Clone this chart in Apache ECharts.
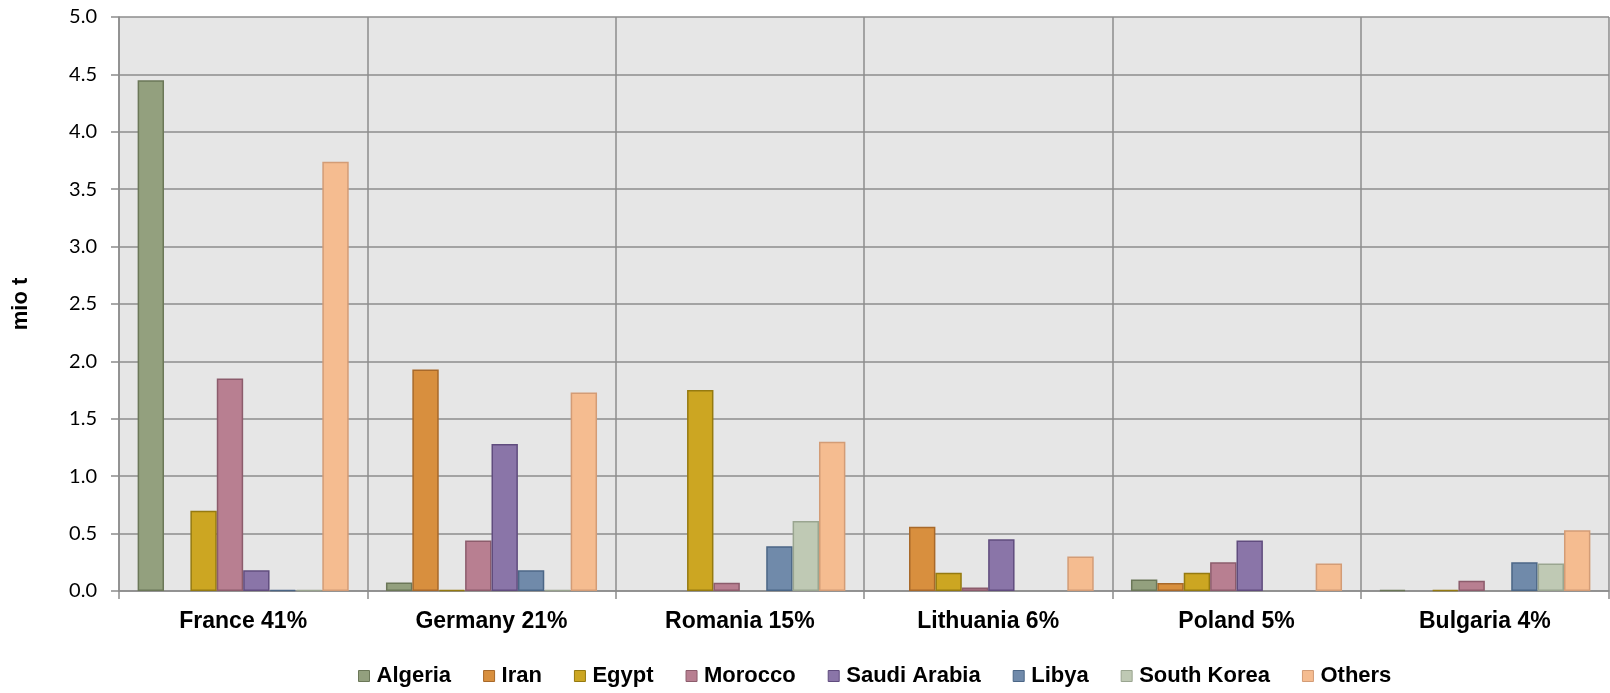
<!DOCTYPE html>
<html><head><meta charset="utf-8">
<script src="https://cdn.jsdelivr.net/npm/echarts@6/dist/echarts.min.js"></script>
<style>html,body{margin:0;padding:0;background:#fff}#c{width:1610px;height:693px}</style>
</head><body><div id="c"></div>
<script>
const categories = ['France 41%', 'Germany 21%', 'Romania 15%', 'Lithuania 6%', 'Poland 5%', 'Bulgaria 4%'];
const seriesNames = ['Algeria', 'Iran', 'Egypt', 'Morocco', 'Saudi Arabia', 'Libya', 'South Korea', 'Others'];
const algeria    = [4.45, 0.075, null, null, 0.10, 0.01];
const iran       = [null, 1.93, null, 0.56, 0.07, null];
const egypt      = [0.70, 0.01, 1.75, 0.16, 0.16, 0.01];
const morocco    = [1.85, 0.44, 0.072, 0.03, 0.25, 0.09];
const saudi      = [0.18, 1.28, null, 0.45, 0.44, null];
const libya      = [0.01, 0.18, 0.39, null, null, 0.25];
const southKorea = [0.01, 0.01, 0.61, null, null, 0.24];
const others     = [3.74, 1.73, 1.30, 0.30, 0.24, 0.53];
const yTicks = ['0.0','0.5','1.0','1.5','2.0','2.5','3.0','3.5','4.0','4.5','5.0'];

const dataSets = [algeria, iran, egypt, morocco, saudi, libya, southKorea, others];
const fills   = ['#93a07e', '#d88f3e', '#cca622', '#b87f91', '#8a75a8', '#708aaa', '#bfc9b4', '#f5bc90'];
const borders = ['#6b7758', '#a8692a', '#957a10', '#8c5c6c', '#604c7e', '#4b6686', '#9aa590', '#d39c76'];

const chart = echarts.init(document.getElementById('c'));
chart.setOption({
  animation: false,
  grid: { left: 119, right: 1, top: 17, bottom: 102, show: true, backgroundColor: '#e6e6e6', borderWidth: 0, containLabel: false, outerBoundsMode: 'none' },
  legend: {
    bottom: 1, left: 353,
    itemWidth: 11, itemHeight: 11, itemGap: 32,
    textStyle: { fontFamily: 'Liberation Sans, Arial', fontWeight: 'bold', fontSize: 22, color: '#000', padding: [0, 0, 0, 2] },
    data: seriesNames.map((n, i) => ({ name: n, icon: 'rect', itemStyle: { color: fills[i], borderColor: borders[i], borderWidth: 1 } }))
  },
  xAxis: {
    type: 'category', data: categories,
    axisLine: { lineStyle: { color: '#8c8c8c', width: 1.5 } },
    axisTick: { show: true, length: 8, lineStyle: { color: '#8c8c8c', width: 1.5 } },
    splitLine: { show: true, lineStyle: { color: '#8c8c8c', width: 1.5 } },
    axisLabel: { margin: 19, fontFamily: 'Liberation Sans, Arial', fontWeight: 'bold', fontSize: 23, color: '#000' }
  },
  yAxis: {
    type: 'value', min: 0, max: 5, interval: 0.5,
    name: 'mio t', nameLocation: 'middle', nameGap: 87, nameRotate: 90,
    nameTextStyle: { fontFamily: 'Liberation Sans, Arial', fontWeight: 'bold', fontSize: 22, color: '#000' },
    axisLine: { show: true, lineStyle: { color: '#8c8c8c', width: 1.5 } },
    axisTick: { show: true, length: 8, lineStyle: { color: '#8c8c8c', width: 1.5 } },
    splitLine: { show: true, lineStyle: { color: '#8c8c8c', width: 1.5 } },
    axisLabel: { margin: 22, fontFamily: 'Lato, Carlito, sans-serif', fontSize: 20, color: '#000', formatter: (v) => yTicks[Math.round(v * 2)] }
  },
  series: dataSets.map((d, i) => ({
    name: seriesNames[i], type: 'bar', data: d,
    barGap: '0%', barCategoryGap: '15%',
    itemStyle: { color: fills[i], borderColor: borders[i], borderWidth: 1.5 }
  }))
});
</script></body></html>
